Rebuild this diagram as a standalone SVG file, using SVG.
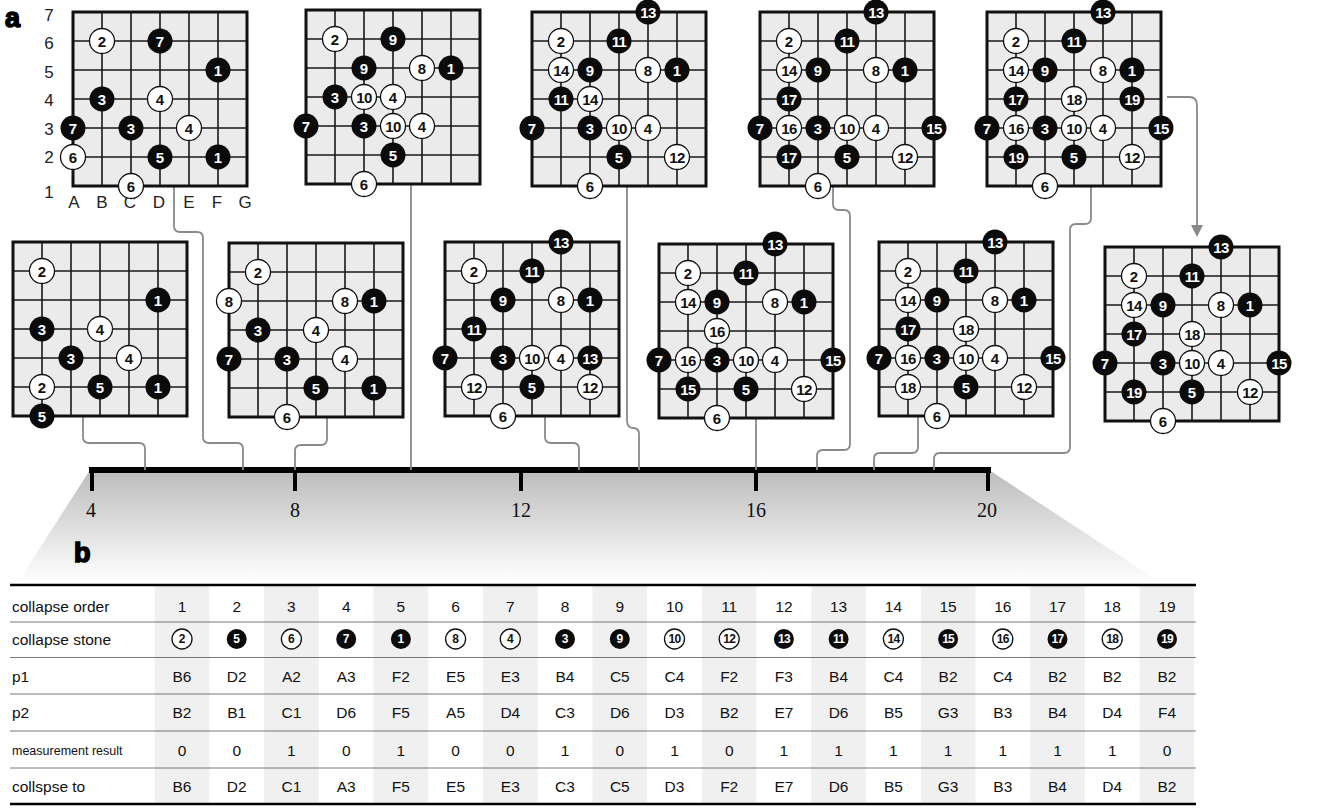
<svg xmlns="http://www.w3.org/2000/svg" width="1319" height="810" viewBox="0 0 1319 810">
<style>
.sb{fill:#0b0b0b}
.sw{fill:#fff;stroke:#111;stroke-width:1.3}
.tb,.tw{font-family:"Liberation Sans",Arial,sans-serif;font-weight:bold;font-size:15px;text-anchor:middle}
.tb{fill:#fff}.tw{fill:#111}
.d2{letter-spacing:-0.7px}
.lab{font-family:"Liberation Sans",Arial,sans-serif;font-size:17px;fill:#222;text-anchor:middle}
.con{fill:none;stroke:#8a8a8a;stroke-width:1.8}
.tl{font-family:"Liberation Serif","Times New Roman",serif;font-size:20px;text-anchor:middle;fill:#111}
.th{font-family:"Liberation Sans",Arial,sans-serif;font-size:15.5px;fill:#111}
.ths{font-family:"Liberation Sans",Arial,sans-serif;font-size:12.5px;fill:#111}
.tc{font-family:"Liberation Sans",Arial,sans-serif;font-size:15.5px;fill:#111;text-anchor:middle}
.ts{font-family:"Liberation Sans",Arial,sans-serif;font-size:12px;font-weight:bold;text-anchor:middle}
.big{font-family:"Liberation Sans",Arial,sans-serif;font-weight:bold;font-size:27px;fill:#000;stroke:#000;stroke-width:1.6}
.sh{fill:#f0f0f0}
</style>
<defs>
<g id="grid">
<rect width="174" height="174" fill="#ebebeb"/>
<path d="M29,0V174M58,0V174M87,0V174M116,0V174M145,0V174M0,29H174M0,58H174M0,87H174M0,116H174M0,145H174" stroke="#1a1a1a" stroke-width="1.6" fill="none"/>
<rect width="174" height="174" fill="none" stroke="#111" stroke-width="3"/>
</g>
<linearGradient id="fade" x1="0" y1="0" x2="0" y2="1">
<stop offset="0" stop-color="#bcbcbc"/>
<stop offset="1" stop-color="#ffffff"/>
</linearGradient>
<marker id="arr" markerWidth="12" markerHeight="12" viewBox="0 0 12 12" refX="6" refY="6" orient="auto" markerUnits="userSpaceOnUse">
<path d="M0,0 L12,6 L0,12 z" fill="#8a8a8a"/>
</marker>
</defs>
<rect width="1319" height="810" fill="#fff"/>

<g id="timeline">
<polygon points="90,470 989,470 1160,582 18,582" fill="url(#fade)"/>
<path d="M89,470H991" stroke="#000" stroke-width="6"/>
<path d="M92,468V491M295,468V491M521,468V491M756,468V491M988,468V491" stroke="#000" stroke-width="4"/>
<text class="tl" x="91" y="517">4</text>
<text class="tl" x="295" y="517">8</text>
<text class="tl" x="521" y="517">12</text>
<text class="tl" x="756" y="517">16</text>
<text class="tl" x="987" y="517">20</text>
</g>

<text class="big" x="5" y="27">a</text>
<text class="big" x="74" y="562">b</text>

<g id="connectors">
<path class="con" d="M83,415V437Q83,443 89,443H139Q145,443 145,449V470"/>
<path class="con" d="M174,186V226Q174,232 180,232H197Q203,232 203,238V437Q203,443 209,443H237Q243,443 243,449V470"/>
<path class="con" d="M327,415V439Q327,445 321,445H301Q295,445 295,451V470"/>
<path class="con" d="M411,184V470"/>
<path class="con" d="M545,415V437Q545,443 551,443H573Q579,443 579,449V470"/>
<path class="con" d="M627,185V420Q627,428 633,428Q639,428 639,434V470"/>
<path class="con" d="M756,417V470"/>
<path class="con" d="M833,186V204Q833,210 839,210H844Q850,210 850,216V444Q850,450 844,450H823Q817,450 817,456V470"/>
<path class="con" d="M918,416V447Q918,453 912,453H880Q874,453 874,459V470"/>
<path class="con" d="M1091,186V218Q1091,224 1085,224H1076Q1070,224 1070,230V447Q1070,453 1064,453H940Q934,453 934,459V470"/>
<path class="con" d="M1167,97H1189Q1197,97 1197,105V231" marker-end="url(#arr)"/>
</g>

<g id="board-1" transform="translate(73,12)">
<use href="#grid"/>
<text class="lab" x="-24" y="9">7</text>
<text class="lab" x="-24" y="37">6</text>
<text class="lab" x="-24" y="66">5</text>
<text class="lab" x="-24" y="94">4</text>
<text class="lab" x="-24" y="123">3</text>
<text class="lab" x="-24" y="151">2</text>
<text class="lab" x="-24" y="186">1</text>
<text class="lab" x="1" y="196">A</text>
<text class="lab" x="29" y="196">B</text>
<text class="lab" x="57" y="196">C</text>
<text class="lab" x="86" y="196">D</text>
<text class="lab" x="116" y="196">E</text>
<text class="lab" x="144" y="196">F</text>
<text class="lab" x="172" y="196">G</text>
<g transform="translate(29,29)"><circle class="sw" r="12.5"/><text class="tw" y="5.5">2</text></g>
<g transform="translate(87,29)"><circle class="sb" r="12.5"/><text class="tb" y="5.5">7</text></g>
<g transform="translate(145,58)"><circle class="sb" r="12.5"/><text class="tb" y="5.5">1</text></g>
<g transform="translate(29,87)"><circle class="sb" r="12.5"/><text class="tb" y="5.5">3</text></g>
<g transform="translate(87,87)"><circle class="sw" r="12.5"/><text class="tw" y="5.5">4</text></g>
<g transform="translate(0,116)"><circle class="sb" r="12.5"/><text class="tb" y="5.5">7</text></g>
<g transform="translate(58,116)"><circle class="sb" r="12.5"/><text class="tb" y="5.5">3</text></g>
<g transform="translate(116,116)"><circle class="sw" r="12.5"/><text class="tw" y="5.5">4</text></g>
<g transform="translate(0,145)"><circle class="sw" r="12.5"/><text class="tw" y="5.5">6</text></g>
<g transform="translate(87,145)"><circle class="sb" r="12.5"/><text class="tb" y="5.5">5</text></g>
<g transform="translate(145,145)"><circle class="sb" r="12.5"/><text class="tb" y="5.5">1</text></g>
<g transform="translate(58,174)"><circle class="sw" r="12.5"/><text class="tw" y="5.5">6</text></g>
</g>

<g id="board-2" transform="translate(306,10)">
<use href="#grid"/>
<g transform="translate(29,29)"><circle class="sw" r="12.5"/><text class="tw" y="5.5">2</text></g>
<g transform="translate(87,29)"><circle class="sb" r="12.5"/><text class="tb" y="5.5">9</text></g>
<g transform="translate(58,58)"><circle class="sb" r="12.5"/><text class="tb" y="5.5">9</text></g>
<g transform="translate(116,58)"><circle class="sw" r="12.5"/><text class="tw" y="5.5">8</text></g>
<g transform="translate(145,58)"><circle class="sb" r="12.5"/><text class="tb" y="5.5">1</text></g>
<g transform="translate(29,87)"><circle class="sb" r="12.5"/><text class="tb" y="5.5">3</text></g>
<g transform="translate(58,87)"><circle class="sw" r="12.5"/><text class="tw d2" y="5.5">10</text></g>
<g transform="translate(87,87)"><circle class="sw" r="12.5"/><text class="tw" y="5.5">4</text></g>
<g transform="translate(0,116)"><circle class="sb" r="12.5"/><text class="tb" y="5.5">7</text></g>
<g transform="translate(58,116)"><circle class="sb" r="12.5"/><text class="tb" y="5.5">3</text></g>
<g transform="translate(87,116)"><circle class="sw" r="12.5"/><text class="tw d2" y="5.5">10</text></g>
<g transform="translate(116,116)"><circle class="sw" r="12.5"/><text class="tw" y="5.5">4</text></g>
<g transform="translate(87,145)"><circle class="sb" r="12.5"/><text class="tb" y="5.5">5</text></g>
<g transform="translate(58,174)"><circle class="sw" r="12.5"/><text class="tw" y="5.5">6</text></g>
</g>

<g id="board-3" transform="translate(532,12)">
<use href="#grid"/>
<g transform="translate(116,0)"><circle class="sb" r="12.5"/><text class="tb d2" y="5.5">13</text></g>
<g transform="translate(29,29)"><circle class="sw" r="12.5"/><text class="tw" y="5.5">2</text></g>
<g transform="translate(87,29)"><circle class="sb" r="12.5"/><text class="tb d2" y="5.5">11</text></g>
<g transform="translate(29,58)"><circle class="sw" r="12.5"/><text class="tw d2" y="5.5">14</text></g>
<g transform="translate(58,58)"><circle class="sb" r="12.5"/><text class="tb" y="5.5">9</text></g>
<g transform="translate(116,58)"><circle class="sw" r="12.5"/><text class="tw" y="5.5">8</text></g>
<g transform="translate(145,58)"><circle class="sb" r="12.5"/><text class="tb" y="5.5">1</text></g>
<g transform="translate(29,87)"><circle class="sb" r="12.5"/><text class="tb d2" y="5.5">11</text></g>
<g transform="translate(58,87)"><circle class="sw" r="12.5"/><text class="tw d2" y="5.5">14</text></g>
<g transform="translate(0,116)"><circle class="sb" r="12.5"/><text class="tb" y="5.5">7</text></g>
<g transform="translate(58,116)"><circle class="sb" r="12.5"/><text class="tb" y="5.5">3</text></g>
<g transform="translate(87,116)"><circle class="sw" r="12.5"/><text class="tw d2" y="5.5">10</text></g>
<g transform="translate(116,116)"><circle class="sw" r="12.5"/><text class="tw" y="5.5">4</text></g>
<g transform="translate(87,145)"><circle class="sb" r="12.5"/><text class="tb" y="5.5">5</text></g>
<g transform="translate(145,145)"><circle class="sw" r="12.5"/><text class="tw d2" y="5.5">12</text></g>
<g transform="translate(58,174)"><circle class="sw" r="12.5"/><text class="tw" y="5.5">6</text></g>
</g>

<g id="board-4" transform="translate(760,12)">
<use href="#grid"/>
<g transform="translate(116,0)"><circle class="sb" r="12.5"/><text class="tb d2" y="5.5">13</text></g>
<g transform="translate(29,29)"><circle class="sw" r="12.5"/><text class="tw" y="5.5">2</text></g>
<g transform="translate(87,29)"><circle class="sb" r="12.5"/><text class="tb d2" y="5.5">11</text></g>
<g transform="translate(29,58)"><circle class="sw" r="12.5"/><text class="tw d2" y="5.5">14</text></g>
<g transform="translate(58,58)"><circle class="sb" r="12.5"/><text class="tb" y="5.5">9</text></g>
<g transform="translate(116,58)"><circle class="sw" r="12.5"/><text class="tw" y="5.5">8</text></g>
<g transform="translate(145,58)"><circle class="sb" r="12.5"/><text class="tb" y="5.5">1</text></g>
<g transform="translate(29,87)"><circle class="sb" r="12.5"/><text class="tb d2" y="5.5">17</text></g>
<g transform="translate(0,116)"><circle class="sb" r="12.5"/><text class="tb" y="5.5">7</text></g>
<g transform="translate(29,116)"><circle class="sw" r="12.5"/><text class="tw d2" y="5.5">16</text></g>
<g transform="translate(58,116)"><circle class="sb" r="12.5"/><text class="tb" y="5.5">3</text></g>
<g transform="translate(87,116)"><circle class="sw" r="12.5"/><text class="tw d2" y="5.5">10</text></g>
<g transform="translate(116,116)"><circle class="sw" r="12.5"/><text class="tw" y="5.5">4</text></g>
<g transform="translate(174,116)"><circle class="sb" r="12.5"/><text class="tb d2" y="5.5">15</text></g>
<g transform="translate(29,145)"><circle class="sb" r="12.5"/><text class="tb d2" y="5.5">17</text></g>
<g transform="translate(87,145)"><circle class="sb" r="12.5"/><text class="tb" y="5.5">5</text></g>
<g transform="translate(145,145)"><circle class="sw" r="12.5"/><text class="tw d2" y="5.5">12</text></g>
<g transform="translate(58,174)"><circle class="sw" r="12.5"/><text class="tw" y="5.5">6</text></g>
</g>

<g id="board-5" transform="translate(987,12)">
<use href="#grid"/>
<g transform="translate(116,0)"><circle class="sb" r="12.5"/><text class="tb d2" y="5.5">13</text></g>
<g transform="translate(29,29)"><circle class="sw" r="12.5"/><text class="tw" y="5.5">2</text></g>
<g transform="translate(87,29)"><circle class="sb" r="12.5"/><text class="tb d2" y="5.5">11</text></g>
<g transform="translate(29,58)"><circle class="sw" r="12.5"/><text class="tw d2" y="5.5">14</text></g>
<g transform="translate(58,58)"><circle class="sb" r="12.5"/><text class="tb" y="5.5">9</text></g>
<g transform="translate(116,58)"><circle class="sw" r="12.5"/><text class="tw" y="5.5">8</text></g>
<g transform="translate(145,58)"><circle class="sb" r="12.5"/><text class="tb" y="5.5">1</text></g>
<g transform="translate(29,87)"><circle class="sb" r="12.5"/><text class="tb d2" y="5.5">17</text></g>
<g transform="translate(87,87)"><circle class="sw" r="12.5"/><text class="tw d2" y="5.5">18</text></g>
<g transform="translate(145,87)"><circle class="sb" r="12.5"/><text class="tb d2" y="5.5">19</text></g>
<g transform="translate(0,116)"><circle class="sb" r="12.5"/><text class="tb" y="5.5">7</text></g>
<g transform="translate(29,116)"><circle class="sw" r="12.5"/><text class="tw d2" y="5.5">16</text></g>
<g transform="translate(58,116)"><circle class="sb" r="12.5"/><text class="tb" y="5.5">3</text></g>
<g transform="translate(87,116)"><circle class="sw" r="12.5"/><text class="tw d2" y="5.5">10</text></g>
<g transform="translate(116,116)"><circle class="sw" r="12.5"/><text class="tw" y="5.5">4</text></g>
<g transform="translate(174,116)"><circle class="sb" r="12.5"/><text class="tb d2" y="5.5">15</text></g>
<g transform="translate(29,145)"><circle class="sb" r="12.5"/><text class="tb d2" y="5.5">19</text></g>
<g transform="translate(87,145)"><circle class="sb" r="12.5"/><text class="tb" y="5.5">5</text></g>
<g transform="translate(145,145)"><circle class="sw" r="12.5"/><text class="tw d2" y="5.5">12</text></g>
<g transform="translate(58,174)"><circle class="sw" r="12.5"/><text class="tw" y="5.5">6</text></g>
</g>

<g id="board-6" transform="translate(13,242)">
<use href="#grid"/>
<g transform="translate(29,29)"><circle class="sw" r="12.5"/><text class="tw" y="5.5">2</text></g>
<g transform="translate(145,58)"><circle class="sb" r="12.5"/><text class="tb" y="5.5">1</text></g>
<g transform="translate(29,87)"><circle class="sb" r="12.5"/><text class="tb" y="5.5">3</text></g>
<g transform="translate(87,87)"><circle class="sw" r="12.5"/><text class="tw" y="5.5">4</text></g>
<g transform="translate(58,116)"><circle class="sb" r="12.5"/><text class="tb" y="5.5">3</text></g>
<g transform="translate(116,116)"><circle class="sw" r="12.5"/><text class="tw" y="5.5">4</text></g>
<g transform="translate(29,145)"><circle class="sw" r="12.5"/><text class="tw" y="5.5">2</text></g>
<g transform="translate(87,145)"><circle class="sb" r="12.5"/><text class="tb" y="5.5">5</text></g>
<g transform="translate(145,145)"><circle class="sb" r="12.5"/><text class="tb" y="5.5">1</text></g>
<g transform="translate(29,174)"><circle class="sb" r="12.5"/><text class="tb" y="5.5">5</text></g>
</g>

<g id="board-7" transform="translate(229,243)">
<use href="#grid"/>
<g transform="translate(29,29)"><circle class="sw" r="12.5"/><text class="tw" y="5.5">2</text></g>
<g transform="translate(0,58)"><circle class="sw" r="12.5"/><text class="tw" y="5.5">8</text></g>
<g transform="translate(116,58)"><circle class="sw" r="12.5"/><text class="tw" y="5.5">8</text></g>
<g transform="translate(145,58)"><circle class="sb" r="12.5"/><text class="tb" y="5.5">1</text></g>
<g transform="translate(29,87)"><circle class="sb" r="12.5"/><text class="tb" y="5.5">3</text></g>
<g transform="translate(87,87)"><circle class="sw" r="12.5"/><text class="tw" y="5.5">4</text></g>
<g transform="translate(0,116)"><circle class="sb" r="12.5"/><text class="tb" y="5.5">7</text></g>
<g transform="translate(58,116)"><circle class="sb" r="12.5"/><text class="tb" y="5.5">3</text></g>
<g transform="translate(116,116)"><circle class="sw" r="12.5"/><text class="tw" y="5.5">4</text></g>
<g transform="translate(87,145)"><circle class="sb" r="12.5"/><text class="tb" y="5.5">5</text></g>
<g transform="translate(145,145)"><circle class="sb" r="12.5"/><text class="tb" y="5.5">1</text></g>
<g transform="translate(58,174)"><circle class="sw" r="12.5"/><text class="tw" y="5.5">6</text></g>
</g>

<g id="board-8" transform="translate(445,242)">
<use href="#grid"/>
<g transform="translate(116,0)"><circle class="sb" r="12.5"/><text class="tb d2" y="5.5">13</text></g>
<g transform="translate(29,29)"><circle class="sw" r="12.5"/><text class="tw" y="5.5">2</text></g>
<g transform="translate(87,29)"><circle class="sb" r="12.5"/><text class="tb d2" y="5.5">11</text></g>
<g transform="translate(58,58)"><circle class="sb" r="12.5"/><text class="tb" y="5.5">9</text></g>
<g transform="translate(116,58)"><circle class="sw" r="12.5"/><text class="tw" y="5.5">8</text></g>
<g transform="translate(145,58)"><circle class="sb" r="12.5"/><text class="tb" y="5.5">1</text></g>
<g transform="translate(29,87)"><circle class="sb" r="12.5"/><text class="tb d2" y="5.5">11</text></g>
<g transform="translate(0,116)"><circle class="sb" r="12.5"/><text class="tb" y="5.5">7</text></g>
<g transform="translate(58,116)"><circle class="sb" r="12.5"/><text class="tb" y="5.5">3</text></g>
<g transform="translate(87,116)"><circle class="sw" r="12.5"/><text class="tw d2" y="5.5">10</text></g>
<g transform="translate(116,116)"><circle class="sw" r="12.5"/><text class="tw" y="5.5">4</text></g>
<g transform="translate(145,116)"><circle class="sb" r="12.5"/><text class="tb d2" y="5.5">13</text></g>
<g transform="translate(29,145)"><circle class="sw" r="12.5"/><text class="tw d2" y="5.5">12</text></g>
<g transform="translate(87,145)"><circle class="sb" r="12.5"/><text class="tb" y="5.5">5</text></g>
<g transform="translate(145,145)"><circle class="sw" r="12.5"/><text class="tw d2" y="5.5">12</text></g>
<g transform="translate(58,174)"><circle class="sw" r="12.5"/><text class="tw" y="5.5">6</text></g>
</g>

<g id="board-9" transform="translate(659,244)">
<use href="#grid"/>
<g transform="translate(116,0)"><circle class="sb" r="12.5"/><text class="tb d2" y="5.5">13</text></g>
<g transform="translate(29,29)"><circle class="sw" r="12.5"/><text class="tw" y="5.5">2</text></g>
<g transform="translate(87,29)"><circle class="sb" r="12.5"/><text class="tb d2" y="5.5">11</text></g>
<g transform="translate(29,58)"><circle class="sw" r="12.5"/><text class="tw d2" y="5.5">14</text></g>
<g transform="translate(58,58)"><circle class="sb" r="12.5"/><text class="tb" y="5.5">9</text></g>
<g transform="translate(116,58)"><circle class="sw" r="12.5"/><text class="tw" y="5.5">8</text></g>
<g transform="translate(145,58)"><circle class="sb" r="12.5"/><text class="tb" y="5.5">1</text></g>
<g transform="translate(58,87)"><circle class="sw" r="12.5"/><text class="tw d2" y="5.5">16</text></g>
<g transform="translate(0,116)"><circle class="sb" r="12.5"/><text class="tb" y="5.5">7</text></g>
<g transform="translate(29,116)"><circle class="sw" r="12.5"/><text class="tw d2" y="5.5">16</text></g>
<g transform="translate(58,116)"><circle class="sb" r="12.5"/><text class="tb" y="5.5">3</text></g>
<g transform="translate(87,116)"><circle class="sw" r="12.5"/><text class="tw d2" y="5.5">10</text></g>
<g transform="translate(116,116)"><circle class="sw" r="12.5"/><text class="tw" y="5.5">4</text></g>
<g transform="translate(174,116)"><circle class="sb" r="12.5"/><text class="tb d2" y="5.5">15</text></g>
<g transform="translate(29,145)"><circle class="sb" r="12.5"/><text class="tb d2" y="5.5">15</text></g>
<g transform="translate(87,145)"><circle class="sb" r="12.5"/><text class="tb" y="5.5">5</text></g>
<g transform="translate(145,145)"><circle class="sw" r="12.5"/><text class="tw d2" y="5.5">12</text></g>
<g transform="translate(58,174)"><circle class="sw" r="12.5"/><text class="tw" y="5.5">6</text></g>
</g>

<g id="board-10" transform="translate(879,242)">
<use href="#grid"/>
<g transform="translate(116,0)"><circle class="sb" r="12.5"/><text class="tb d2" y="5.5">13</text></g>
<g transform="translate(29,29)"><circle class="sw" r="12.5"/><text class="tw" y="5.5">2</text></g>
<g transform="translate(87,29)"><circle class="sb" r="12.5"/><text class="tb d2" y="5.5">11</text></g>
<g transform="translate(29,58)"><circle class="sw" r="12.5"/><text class="tw d2" y="5.5">14</text></g>
<g transform="translate(58,58)"><circle class="sb" r="12.5"/><text class="tb" y="5.5">9</text></g>
<g transform="translate(116,58)"><circle class="sw" r="12.5"/><text class="tw" y="5.5">8</text></g>
<g transform="translate(145,58)"><circle class="sb" r="12.5"/><text class="tb" y="5.5">1</text></g>
<g transform="translate(29,87)"><circle class="sb" r="12.5"/><text class="tb d2" y="5.5">17</text></g>
<g transform="translate(87,87)"><circle class="sw" r="12.5"/><text class="tw d2" y="5.5">18</text></g>
<g transform="translate(0,116)"><circle class="sb" r="12.5"/><text class="tb" y="5.5">7</text></g>
<g transform="translate(29,116)"><circle class="sw" r="12.5"/><text class="tw d2" y="5.5">16</text></g>
<g transform="translate(58,116)"><circle class="sb" r="12.5"/><text class="tb" y="5.5">3</text></g>
<g transform="translate(87,116)"><circle class="sw" r="12.5"/><text class="tw d2" y="5.5">10</text></g>
<g transform="translate(116,116)"><circle class="sw" r="12.5"/><text class="tw" y="5.5">4</text></g>
<g transform="translate(174,116)"><circle class="sb" r="12.5"/><text class="tb d2" y="5.5">15</text></g>
<g transform="translate(29,145)"><circle class="sw" r="12.5"/><text class="tw d2" y="5.5">18</text></g>
<g transform="translate(87,145)"><circle class="sb" r="12.5"/><text class="tb" y="5.5">5</text></g>
<g transform="translate(145,145)"><circle class="sw" r="12.5"/><text class="tw d2" y="5.5">12</text></g>
<g transform="translate(58,174)"><circle class="sw" r="12.5"/><text class="tw" y="5.5">6</text></g>
</g>

<g id="board-11" transform="translate(1105,247)">
<use href="#grid"/>
<g transform="translate(116,0)"><circle class="sb" r="12.5"/><text class="tb d2" y="5.5">13</text></g>
<g transform="translate(29,29)"><circle class="sw" r="12.5"/><text class="tw" y="5.5">2</text></g>
<g transform="translate(87,29)"><circle class="sb" r="12.5"/><text class="tb d2" y="5.5">11</text></g>
<g transform="translate(29,58)"><circle class="sw" r="12.5"/><text class="tw d2" y="5.5">14</text></g>
<g transform="translate(58,58)"><circle class="sb" r="12.5"/><text class="tb" y="5.5">9</text></g>
<g transform="translate(116,58)"><circle class="sw" r="12.5"/><text class="tw" y="5.5">8</text></g>
<g transform="translate(145,58)"><circle class="sb" r="12.5"/><text class="tb" y="5.5">1</text></g>
<g transform="translate(29,87)"><circle class="sb" r="12.5"/><text class="tb d2" y="5.5">17</text></g>
<g transform="translate(87,87)"><circle class="sw" r="12.5"/><text class="tw d2" y="5.5">18</text></g>
<g transform="translate(0,116)"><circle class="sb" r="12.5"/><text class="tb" y="5.5">7</text></g>
<g transform="translate(58,116)"><circle class="sb" r="12.5"/><text class="tb" y="5.5">3</text></g>
<g transform="translate(87,116)"><circle class="sw" r="12.5"/><text class="tw d2" y="5.5">10</text></g>
<g transform="translate(116,116)"><circle class="sw" r="12.5"/><text class="tw" y="5.5">4</text></g>
<g transform="translate(174,116)"><circle class="sb" r="12.5"/><text class="tb d2" y="5.5">15</text></g>
<g transform="translate(29,145)"><circle class="sb" r="12.5"/><text class="tb d2" y="5.5">19</text></g>
<g transform="translate(87,145)"><circle class="sb" r="12.5"/><text class="tb" y="5.5">5</text></g>
<g transform="translate(145,145)"><circle class="sw" r="12.5"/><text class="tw d2" y="5.5">12</text></g>
<g transform="translate(58,174)"><circle class="sw" r="12.5"/><text class="tw" y="5.5">6</text></g>
</g>

<g id="table">
<rect class="sh" x="154.7" y="586" width="54.7" height="217"/>
<rect class="sh" x="264.1" y="586" width="54.7" height="217"/>
<rect class="sh" x="373.5" y="586" width="54.7" height="217"/>
<rect class="sh" x="483" y="586" width="54.7" height="217"/>
<rect class="sh" x="592.4" y="586" width="54.7" height="217"/>
<rect class="sh" x="701.8" y="586" width="54.7" height="217"/>
<rect class="sh" x="811.3" y="586" width="54.7" height="217"/>
<rect class="sh" x="920.7" y="586" width="54.7" height="217"/>
<rect class="sh" x="1030.1" y="586" width="54.7" height="217"/>
<rect class="sh" x="1139.6" y="586" width="54.7" height="217"/>
<path d="M10,585H1196M10,804H1196" stroke="#000" stroke-width="2.5"/>
<path d="M10,622H1196M10,657.5H1196M10,694H1196M10,731H1196M10,768H1196" stroke="#555" stroke-width="0.8"/>
<text class="th" x="12" y="611.5">collapse order</text>
<text class="th" x="12" y="645">collapse stone</text>
<text class="th" x="12" y="681.5">p1</text>
<text class="th" x="12" y="717.5">p2</text>
<text class="ths" x="12" y="754.5">measurement result</text>
<text class="th" x="12" y="791.5">collspse to</text>
<g class="tc">
<text x="182" y="611.5">1</text><text x="236.7" y="611.5">2</text><text x="291.4" y="611.5">3</text><text x="346.2" y="611.5">4</text><text x="400.9" y="611.5">5</text><text x="455.6" y="611.5">6</text><text x="510.3" y="611.5">7</text><text x="565" y="611.5">8</text><text x="619.8" y="611.5">9</text><text x="674.5" y="611.5">10</text><text x="729.2" y="611.5">11</text><text x="783.9" y="611.5">12</text><text x="838.6" y="611.5">13</text><text x="893.4" y="611.5">14</text><text x="948.1" y="611.5">15</text><text x="1002.8" y="611.5">16</text><text x="1057.5" y="611.5">17</text><text x="1112.2" y="611.5">18</text><text x="1167" y="611.5">19</text>
<text x="182" y="681.5">B6</text><text x="236.7" y="681.5">D2</text><text x="291.4" y="681.5">A2</text><text x="346.2" y="681.5">A3</text><text x="400.9" y="681.5">F2</text><text x="455.6" y="681.5">E5</text><text x="510.3" y="681.5">E3</text><text x="565" y="681.5">B4</text><text x="619.8" y="681.5">C5</text><text x="674.5" y="681.5">C4</text><text x="729.2" y="681.5">F2</text><text x="783.9" y="681.5">F3</text><text x="838.6" y="681.5">B4</text><text x="893.4" y="681.5">C4</text><text x="948.1" y="681.5">B2</text><text x="1002.8" y="681.5">C4</text><text x="1057.5" y="681.5">B2</text><text x="1112.2" y="681.5">B2</text><text x="1167" y="681.5">B2</text>
<text x="182" y="717.5">B2</text><text x="236.7" y="717.5">B1</text><text x="291.4" y="717.5">C1</text><text x="346.2" y="717.5">D6</text><text x="400.9" y="717.5">F5</text><text x="455.6" y="717.5">A5</text><text x="510.3" y="717.5">D4</text><text x="565" y="717.5">C3</text><text x="619.8" y="717.5">D6</text><text x="674.5" y="717.5">D3</text><text x="729.2" y="717.5">B2</text><text x="783.9" y="717.5">E7</text><text x="838.6" y="717.5">D6</text><text x="893.4" y="717.5">B5</text><text x="948.1" y="717.5">G3</text><text x="1002.8" y="717.5">B3</text><text x="1057.5" y="717.5">B4</text><text x="1112.2" y="717.5">D4</text><text x="1167" y="717.5">F4</text>
<text x="182" y="755.5">0</text><text x="236.7" y="755.5">0</text><text x="291.4" y="755.5">1</text><text x="346.2" y="755.5">0</text><text x="400.9" y="755.5">1</text><text x="455.6" y="755.5">0</text><text x="510.3" y="755.5">0</text><text x="565" y="755.5">1</text><text x="619.8" y="755.5">0</text><text x="674.5" y="755.5">1</text><text x="729.2" y="755.5">0</text><text x="783.9" y="755.5">1</text><text x="838.6" y="755.5">1</text><text x="893.4" y="755.5">1</text><text x="948.1" y="755.5">1</text><text x="1002.8" y="755.5">1</text><text x="1057.5" y="755.5">1</text><text x="1112.2" y="755.5">1</text><text x="1167" y="755.5">0</text>
<text x="182" y="791.5">B6</text><text x="236.7" y="791.5">D2</text><text x="291.4" y="791.5">C1</text><text x="346.2" y="791.5">A3</text><text x="400.9" y="791.5">F5</text><text x="455.6" y="791.5">E5</text><text x="510.3" y="791.5">E3</text><text x="565" y="791.5">C3</text><text x="619.8" y="791.5">C5</text><text x="674.5" y="791.5">D3</text><text x="729.2" y="791.5">F2</text><text x="783.9" y="791.5">E7</text><text x="838.6" y="791.5">D6</text><text x="893.4" y="791.5">B5</text><text x="948.1" y="791.5">G3</text><text x="1002.8" y="791.5">B3</text><text x="1057.5" y="791.5">B4</text><text x="1112.2" y="791.5">D4</text><text x="1167" y="791.5">B2</text>
</g>
<g transform="translate(182,639)"><circle class="sw" r="10"/><text class="ts" y="4.2" fill="#111">2</text></g>
<g transform="translate(236.7,639)"><circle class="sb" r="10"/><text class="ts" y="4.2" fill="#fff">5</text></g>
<g transform="translate(291.4,639)"><circle class="sw" r="10"/><text class="ts" y="4.2" fill="#111">6</text></g>
<g transform="translate(346.2,639)"><circle class="sb" r="10"/><text class="ts" y="4.2" fill="#fff">7</text></g>
<g transform="translate(400.9,639)"><circle class="sb" r="10"/><text class="ts" y="4.2" fill="#fff">1</text></g>
<g transform="translate(455.6,639)"><circle class="sw" r="10"/><text class="ts" y="4.2" fill="#111">8</text></g>
<g transform="translate(510.3,639)"><circle class="sw" r="10"/><text class="ts" y="4.2" fill="#111">4</text></g>
<g transform="translate(565,639)"><circle class="sb" r="10"/><text class="ts" y="4.2" fill="#fff">3</text></g>
<g transform="translate(619.8,639)"><circle class="sb" r="10"/><text class="ts" y="4.2" fill="#fff">9</text></g>
<g transform="translate(674.5,639)"><circle class="sw" r="10"/><text class="ts d2" y="4.2" fill="#111">10</text></g>
<g transform="translate(729.2,639)"><circle class="sw" r="10"/><text class="ts d2" y="4.2" fill="#111">12</text></g>
<g transform="translate(783.9,639)"><circle class="sb" r="10"/><text class="ts d2" y="4.2" fill="#fff">13</text></g>
<g transform="translate(838.6,639)"><circle class="sb" r="10"/><text class="ts d2" y="4.2" fill="#fff">11</text></g>
<g transform="translate(893.4,639)"><circle class="sw" r="10"/><text class="ts d2" y="4.2" fill="#111">14</text></g>
<g transform="translate(948.1,639)"><circle class="sb" r="10"/><text class="ts d2" y="4.2" fill="#fff">15</text></g>
<g transform="translate(1002.8,639)"><circle class="sw" r="10"/><text class="ts d2" y="4.2" fill="#111">16</text></g>
<g transform="translate(1057.5,639)"><circle class="sb" r="10"/><text class="ts d2" y="4.2" fill="#fff">17</text></g>
<g transform="translate(1112.2,639)"><circle class="sw" r="10"/><text class="ts d2" y="4.2" fill="#111">18</text></g>
<g transform="translate(1167,639)"><circle class="sb" r="10"/><text class="ts d2" y="4.2" fill="#fff">19</text></g>
</g>
</svg>
